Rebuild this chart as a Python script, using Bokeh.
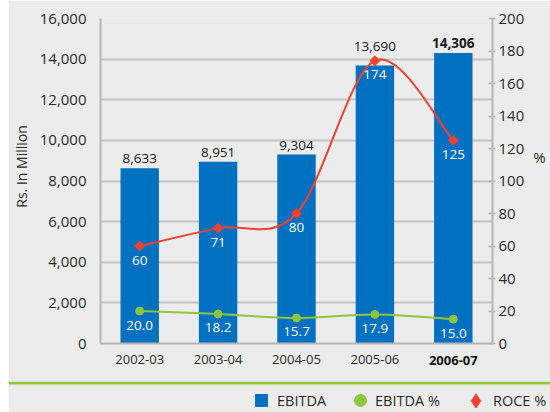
import math
from bokeh.plotting import figure
from bokeh.models import (Range1d, LinearAxis, FixedTicker, NumeralTickFormatter,
                          ColumnDataSource, Legend, LegendItem)
from bokeh.layouts import column
from bokeh.embed import file_html
from bokeh.resources import INLINE
from bokeh.core.properties import value

# ---- data ----
years = ["2002-03", "2003-04", "2004-05", "2005-06", "2006-07"]
ebitda = [8633, 8951, 9304, 13690, 14306]
ebitda_labels = ["8,633", "8,951", "9,304", "13,690", "14,306"]
ebitda_pct = [20.0, 18.2, 15.7, 17.9, 15.0]
ebitda_pct_labels = ["20.0", "18.2", "15.7", "17.9", "15.0"]
roce = [60, 71, 80, 174, 125]
roce_labels = ["60", "71", "80", "174", "125"]
left_ticks = [0, 2000, 4000, 6000, 8000, 10000, 12000, 14000, 16000]
right_ticks = [0, 20, 40, 60, 80, 100, 120, 140, 160, 180, 200]

BG = "#ececec"
BLUE = "#0070c0"
GREEN = "#8cc63f"
RED = "#ee4130"
GRID = "#c3c3c3"
AXIS = "#b5b5b5"
TXT = "#2a2a2a"
FONT = "Open Sans"
NB = "\u00a0"

xs = [i + 0.5 for i in range(len(years))]


def smooth(xv, yv):
    n = len(xv)
    d = dict(x0=[], y0=[], x1=[], y1=[], cx0=[], cy0=[], cx1=[], cy1=[])
    for i in range(n - 1):
        xa, ya = xv[i], yv[i]
        xb, yb = xv[i + 1], yv[i + 1]
        xp, yp = (xv[i - 1], yv[i - 1]) if i > 0 else (xa, ya)
        xn, yn = (xv[i + 2], yv[i + 2]) if i + 2 < n else (xb, yb)
        d["x0"].append(xa); d["y0"].append(ya)
        d["x1"].append(xb); d["y1"].append(yb)
        d["cx0"].append(xa + (xb - xp) / 6); d["cy0"].append(ya + (yb - yp) / 6)
        d["cx1"].append(xb - (xn - xa) / 6); d["cy1"].append(yb - (yn - ya) / 6)
    return ColumnDataSource(d)


W = 542
H_MAIN = 381
H_LEG = 31

p = figure(width=W, height=H_MAIN, output_backend="svg", toolbar_location=None,
           x_range=Range1d(0, 5), y_range=Range1d(0, 16000), frame_align=False,
           min_border_left=92, min_border_right=58, min_border_top=18, min_border_bottom=38,
           background_fill_color=BG, border_fill_color=BG, outline_line_color=None)
p.extra_y_ranges = {"pct": Range1d(0, 200)}

# bottom axis (regular labels)
p.xaxis.ticker = FixedTicker(ticks=xs)
p.xaxis.major_label_overrides = {x: (lab if i < len(years) - 1 else " ")
                                 for i, (x, lab) in enumerate(zip(xs, years))}
p.xaxis.major_tick_line_color = None
p.xaxis.minor_tick_line_color = None
p.xaxis.axis_line_color = AXIS
p.xaxis.axis_line_width = 2
p.xaxis.major_label_text_font = FONT
p.xaxis.major_label_text_font_size = "13px"
p.xaxis.major_label_text_color = TXT
p.xaxis.major_label_standoff = 0

# second bottom axis carrying the bold last label at the same level
xb = LinearAxis(ticker=FixedTicker(ticks=[xs[-1]]),
                major_label_overrides={xs[-1]: years[-1]})
xb.axis_line_color = None
xb.major_tick_line_color = None
xb.minor_tick_line_color = None
xb.major_label_text_font = FONT
xb.major_label_text_font_size = "13px"
xb.major_label_text_font_style = "bold"
xb.major_label_text_color = "#111111"
xb.major_label_standoff = -21
p.add_layout(xb, "below")

p.yaxis.ticker = FixedTicker(ticks=left_ticks)
p.yaxis.formatter = NumeralTickFormatter(format="0,0")
p.yaxis.major_tick_line_color = None
p.yaxis.minor_tick_line_color = None
p.yaxis.axis_line_color = AXIS
p.yaxis.axis_line_width = 2
p.yaxis.major_label_text_font = FONT
p.yaxis.major_label_text_font_size = "15px"
p.yaxis.major_label_text_color = TXT
p.yaxis.major_label_standoff = 8
p.yaxis.axis_label = NB * 8 + "Rs. In Million"
p.yaxis.axis_label_text_font = FONT
p.yaxis.axis_label_text_font_size = "14px"
p.yaxis.axis_label_text_font_style = "normal"
p.yaxis.axis_label_text_color = TXT
p.yaxis.axis_label_standoff = 6

ry = LinearAxis(y_range_name="pct", ticker=FixedTicker(ticks=right_ticks))
ry.axis_line_color = AXIS
ry.axis_line_width = 2
ry.major_tick_line_color = AXIS
ry.major_tick_line_width = 1.5
ry.major_tick_in = 4
ry.major_tick_out = 3
ry.minor_tick_line_color = None
ry.major_label_text_font = FONT
ry.major_label_text_font_size = "15px"
ry.major_label_text_color = TXT
ry.major_label_standoff = 3
ry.axis_label = "%\n" + NB + "\n" + NB
ry.axis_label_orientation = "horizontal"
ry.axis_label_text_font = FONT
ry.axis_label_text_font_size = "15px"
ry.axis_label_text_font_style = "normal"
ry.axis_label_text_color = TXT
ry.axis_label_standoff = 6
p.add_layout(ry, "right")

p.xgrid.grid_line_color = None
p.ygrid.ticker = FixedTicker(ticks=left_ticks)
p.ygrid.grid_line_color = GRID
p.ygrid.grid_line_width = 2

src = ColumnDataSource(dict(
    x=xs, ebitda=ebitda, elab=ebitda_labels,
    estyle=["normal"] * (len(years) - 1) + ["bold"],
    eoff=[-5, -5, -5, -14, -5],
    pct=ebitda_pct, plab=ebitda_pct_labels,
    roce=roce, rlab=roce_labels))

p.vbar(x="x", top="ebitda", width=0.49, source=src, fill_color=BLUE, line_color=None)

p.text(x="x", y="ebitda", text="elab", source=src, y_offset="eoff",
       text_align="center", text_baseline="bottom", text_font=value(FONT),
       text_font_size="13.5px", text_color="#1a1a1a", text_font_style="estyle")

# smoothed lines
p.bezier(x0="x0", y0="y0", x1="x1", y1="y1", cx0="cx0", cy0="cy0", cx1="cx1", cy1="cy1",
         source=smooth(xs, ebitda_pct), y_range_name="pct", line_color=GREEN, line_width=2)
p.bezier(x0="x0", y0="y0", x1="x1", y1="y1", cx0="cx0", cy0="cy0", cx1="cx1", cy1="cy1",
         source=smooth(xs, roce), y_range_name="pct", line_color=RED, line_width=2)

p.scatter(x="x", y="pct", source=src, y_range_name="pct", marker="circle", size=8,
          fill_color=GREEN, line_color=GREEN)
p.scatter(x="x", y="roce", source=src, y_range_name="pct", marker="square", size=7,
          angle=math.pi / 4, fill_color=RED, line_color=RED)

p.text(x="x", y="pct", text="plab", source=src, y_range_name="pct", y_offset=14,
       text_align="center", text_baseline="middle", text_font=value(FONT),
       text_font_size="13.5px", text_color="white")
p.text(x="x", y="roce", text="rlab", source=src, y_range_name="pct", y_offset=14,
       text_align="center", text_baseline="middle", text_font=value(FONT),
       text_font_size="13.5px", text_color="white")

# ---- legend strip ----
lg = figure(width=W, height=H_LEG, output_backend="svg", toolbar_location=None,
            x_range=Range1d(0, W), y_range=Range1d(0, H_LEG), frame_align=False,
            x_axis_type=None, y_axis_type=None,
            min_border_left=0, min_border_right=0, min_border_top=0, min_border_bottom=0,
            background_fill_color=BG, border_fill_color=BG, outline_line_color=None)
lg.xgrid.grid_line_color = None
lg.ygrid.grid_line_color = None
lg.segment(x0=[0], y0=[H_LEG - 1.5], x1=[W], y1=[H_LEG - 1.5], line_color=GREEN, line_width=3)

r1 = lg.scatter(x=[-100], y=[-100], marker="square", fill_color=BLUE, line_color=BLUE)
r2 = lg.scatter(x=[-100], y=[-100], marker="circle", fill_color=GREEN, line_color=GREEN)
r3 = lg.scatter(x=[-100], y=[-100], marker="diamond", fill_color=RED, line_color=RED)


def one_legend(label, rend, x, gsize, standoff):
    return Legend(items=[LegendItem(label=label, renderers=[rend])],
                  orientation="horizontal", location=(x, 12 - gsize / 2),
                  background_fill_alpha=0, border_line_color=None,
                  padding=0, margin=0, spacing=0, glyph_width=gsize, glyph_height=gsize,
                  label_standoff=standoff, label_text_font=FONT, label_text_font_size="14.5px",
                  label_text_color=TXT, label_height=gsize)


lg.add_layout(one_legend("EBITDA", r1, 238, 30, 1), "center")
lg.add_layout(one_legend("EBITDA %", r2, 337, 30, 0), "center")
lg.add_layout(one_legend("ROCE %", r3, 450, 35, 0), "center")

layout = column(p, lg, spacing=0, margin=(0, 0, 0, 8))
open("out.html", "w").write(file_html(layout, INLINE))
